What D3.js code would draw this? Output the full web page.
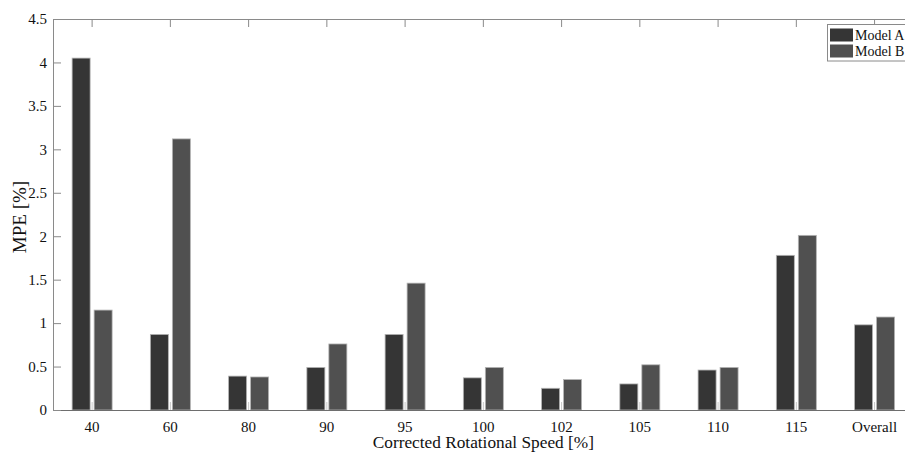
<!DOCTYPE html>
<html>
<head>
<meta charset="utf-8">
<script src="https://cdn.jsdelivr.net/npm/d3@7"></script>
<style>
  html, body { margin: 0; padding: 0; background: #fff; overflow: hidden; }
  svg { display: block; font-family: "Liberation Serif", "Times New Roman", serif; }
</style>
</head>
<body>
<svg id="chart" width="905" height="453"></svg>
<script>
const categories = ["40", "60", "80", "90", "95", "100", "102", "105", "110", "115", "Overall"];
const seriesNames = ["Model A", "Model B"];
const modelA = [4.05, 0.87, 0.39, 0.49, 0.87, 0.37, 0.25, 0.30, 0.46, 1.78, 0.98];
const modelB = [1.15, 3.12, 0.38, 0.76, 1.46, 0.49, 0.35, 0.52, 0.49, 2.01, 1.07];
const yTicks = [0, 0.5, 1, 1.5, 2, 2.5, 3, 3.5, 4, 4.5];
const colors = ["#353535", "#505050"];

(function () {
const svg = d3.select("#chart");
const mLeft = 53, mRight = 913.7, mTop = 19, mBottom = 410;

const x = d3.scaleBand().domain(categories).range([mLeft, mRight]).padding(0);
const xInner = d3.scaleBand().domain(seriesNames).range([-20, 20]).paddingInner(4 / 22);
const y = d3.scaleLinear().domain([0, 4.5]).range([mBottom, mTop]);

const data = categories.map((c, i) => ({ cat: c, vals: [modelA[i], modelB[i]] }));

// bars
const g = svg.append("g");
g.selectAll("g.cat").data(data).join("g")
  .attr("class", "cat")
  .attr("transform", d => `translate(${x(d.cat) + x.bandwidth() / 2},0)`)
  .selectAll("rect").data(d => d.vals.map((v, j) => ({ s: seriesNames[j], v, j })))
  .join("rect")
  .attr("x", d => xInner(d.s))
  .attr("width", xInner.bandwidth())
  .attr("y", d => y(d.v))
  .attr("height", d => y(0) - y(d.v))
  .attr("fill", d => colors[d.j])
  .attr("stroke", "#b4b4b4")
  .attr("stroke-width", 0.8);

const axisColor = "#8a8a8a";

// bottom axis
const xAxis = svg.append("g").attr("transform", `translate(0,${mBottom})`)
  .call(d3.axisBottom(x).tickSizeInner(-8).tickSizeOuter(0).tickPadding(11));
xAxis.select(".domain").attr("stroke", "#6e6e6e");
xAxis.selectAll(".tick line").attr("stroke", "#c8c8c8");
xAxis.selectAll(".tick text").attr("font-size", 15).attr("fill", "#111")
  .attr("font-family", "Liberation Serif, Times New Roman, serif");

// top axis (box)
const xTop = svg.append("g").attr("transform", `translate(0,${mTop})`)
  .call(d3.axisTop(x).tickSizeInner(-8).tickSizeOuter(0).tickFormat(""));
xTop.select(".domain").attr("stroke", axisColor);
xTop.selectAll(".tick line").attr("stroke", axisColor);

// left axis
const yAxis = svg.append("g").attr("transform", `translate(${mLeft},0)`)
  .call(d3.axisLeft(y).tickValues(yTicks).tickFormat(d3.format("~g")).tickSizeInner(-8).tickSizeOuter(0).tickPadding(6));
yAxis.select(".domain").attr("stroke", axisColor);
yAxis.selectAll(".tick line").attr("stroke", axisColor);
yAxis.selectAll(".tick text").attr("font-size", 15).attr("fill", "#111")
  .attr("font-family", "Liberation Serif, Times New Roman, serif");

// axis titles
svg.append("text")
  .attr("x", (mLeft + mRight) / 2).attr("y", 448)
  .attr("text-anchor", "middle").attr("font-size", 17.3).attr("fill", "#111")
  .text("Corrected Rotational Speed [%]");
svg.append("text")
  .attr("transform", `translate(26,217) rotate(-90)`)
  .attr("text-anchor", "middle").attr("font-size", 19).attr("fill", "#111")
  .text("MPE [%]");

// legend
const lg = svg.append("g");
lg.append("rect").attr("x", 827.5).attr("y", 24.5).attr("width", 84).attr("height", 36.5)
  .attr("fill", "#fff").attr("stroke", "#8a8a8a").attr("stroke-width", 1);
seriesNames.forEach((s, i) => {
  lg.append("rect").attr("x", 830).attr("y", 28.5 + i * 16).attr("width", 23).attr("height", 13)
    .attr("fill", colors[i]);
  lg.append("text").attr("x", 855).attr("y", 40 + i * 16)
    .attr("font-size", 14).attr("fill", "#111").text(s);
});
})();
</script>
</body>
</html>
